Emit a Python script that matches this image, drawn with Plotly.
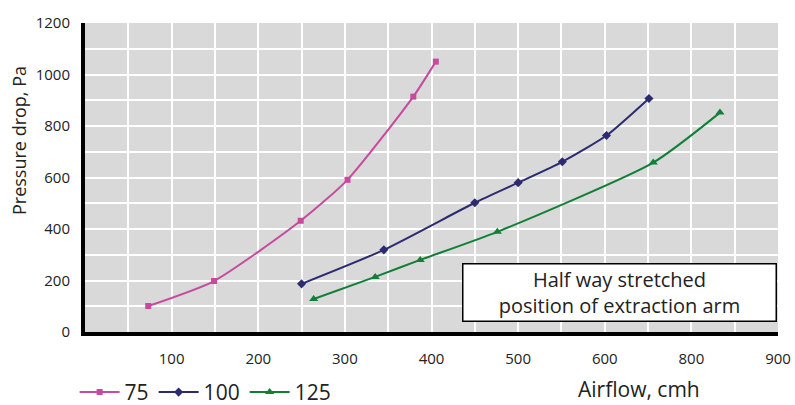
import plotly.graph_objects as go

# Data
x75 = [73, 149, 249, 303, 379, 405]
y75 = [101, 198, 432, 591, 914, 1050]

x100 = [250, 345, 450, 500, 551, 602, 651]
y100 = [187, 319, 502, 580, 661, 763, 907]

x125 = [264, 335, 387, 476, 656, 733]
y125 = [128, 214, 280, 389, 658, 852]

x_tickvals = [100, 200, 300, 400, 500, 600, 700, 800]
x_ticktext = ["100", "200", "300", "400", "500", "600", "800", "900"]
y_tickvals = [0, 200, 400, 600, 800, 1000, 1200]

FONT = "Open Sans"
TXT = "#222222"

fig = go.Figure()
fig.add_trace(go.Scatter(x=x75, y=y75, name="75", mode="lines+markers",
                         line=dict(color="#C64A9D", width=2, shape="spline", smoothing=0.6),
                         marker=dict(symbol="square", size=6, color="#C64A9D")))
fig.add_trace(go.Scatter(x=x100, y=y100, name="100", mode="lines+markers",
                         line=dict(color="#2C2B72", width=2, shape="spline", smoothing=0.6),
                         marker=dict(symbol="diamond", size=7, color="#2C2B72")))
fig.add_trace(go.Scatter(x=x125, y=y125, name="125", mode="lines+markers",
                         line=dict(color="#118036", width=2, shape="spline", smoothing=0.6),
                         marker=dict(symbol="triangle-up", size=8, color="#118036")))

fig.update_layout(
    width=795, height=405,
    margin=dict(l=85, r=17, t=23, b=73, autoexpand=False),
    paper_bgcolor="white",
    plot_bgcolor="#D9D9D9",
    font=dict(family=FONT, color=TXT, size=15),
    showlegend=True,
    legend=dict(orientation="h", x=-0.015, xanchor="left", y=-0.262, yanchor="bottom",
                font=dict(size=21, color=TXT), bgcolor="rgba(0,0,0,0)",
                itemwidth=40, tracegroupgap=0),
    xaxis=dict(range=[0, 800], tickvals=x_tickvals, ticktext=x_ticktext,
               showgrid=False, zeroline=False, automargin=False,
               showline=True, linecolor="black", linewidth=4,
               ticks="outside", ticklen=10, tickcolor="rgba(0,0,0,0)",
               tickfont=dict(size=15, color=TXT)),
    yaxis=dict(range=[0, 1200], tickvals=y_tickvals,
               showgrid=False, zeroline=False, automargin=False,
               showline=True, linecolor="black", linewidth=4,
               ticks="outside", ticklen=8, tickcolor="rgba(0,0,0,0)",
               tickfont=dict(size=15, color=TXT)),
)

# minor grid: every 50 on x, every 100 on y
fig.update_xaxes(minor=dict(dtick=50, tick0=0, showgrid=True, gridcolor="white", gridwidth=2))
fig.update_yaxes(minor=dict(dtick=100, tick0=0, showgrid=True, gridcolor="white", gridwidth=2))

fig.add_annotation(text="Pressure drop, Pa", xref="paper", yref="paper",
                   x=-0.0954, y=0.621, textangle=-90, showarrow=False,
                   font=dict(size=18, color=TXT), xanchor="center", yanchor="middle")
fig.add_annotation(text="Airflow, cmh", xref="paper", yref="paper",
                   x=0.80, y=-0.236, showarrow=False,
                   font=dict(size=21, color=TXT), xanchor="center", yanchor="bottom")
fig.add_annotation(text="Half way stretched<br>position of extraction arm",
                   xref="paper", yref="paper", x=0.772, y=0.128,
                   xanchor="center", yanchor="middle", showarrow=False,
                   width=310, height=54, borderpad=1, borderwidth=1.5,
                   bordercolor="black", bgcolor="white",
                   font=dict(size=20, color=TXT))

fig.write_html("out.html", config={"displayModeBar": False},
               post_script="document.body.style.margin='0';")
